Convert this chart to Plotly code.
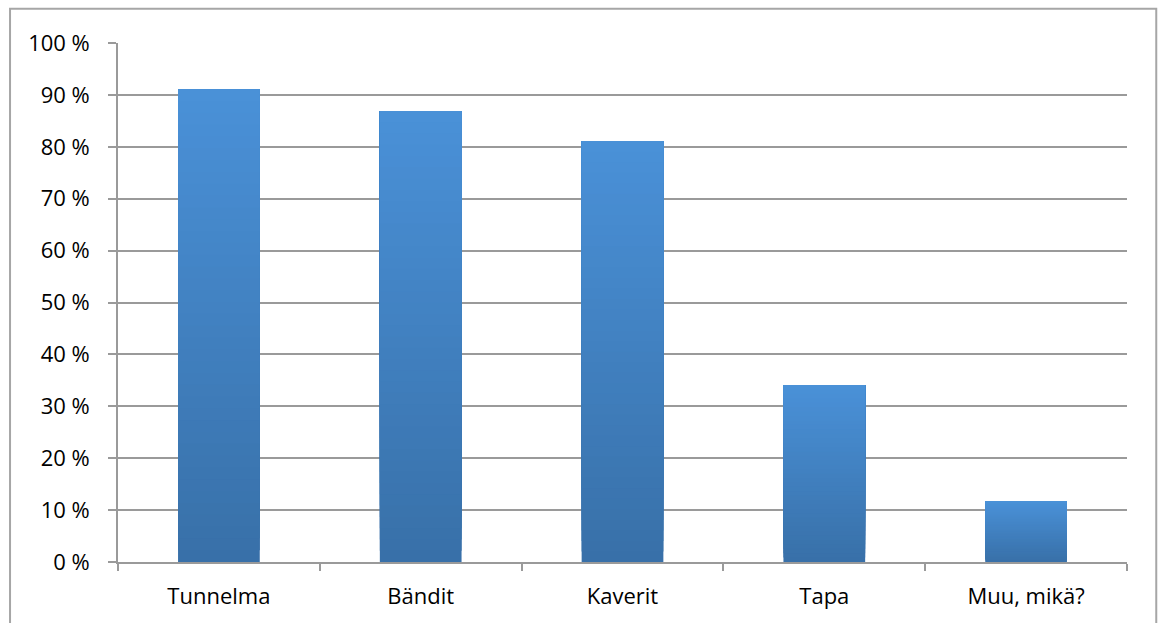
import plotly.graph_objects as go

categories = ["Tunnelma", "Bändit", "Kaverit", "Tapa", "Muu, mikä?"]
values = [91.1, 86.9, 81.1, 34.1, 11.7]
y_ticks = [0, 10, 20, 30, 40, 50, 60, 70, 80, 90, 100]

fig = go.Figure()

# vertical gradient: overlay bars starting ever higher, darker at bottom
N = 40
top = (74, 145, 216)
bot = (56, 112, 168)
for k in range(N):
    t = (k + 0.5) / N
    c = tuple(round(bot[i] + (top[i] - bot[i]) * t) for i in range(3))
    fig.add_trace(go.Bar(
        x=categories,
        y=[v - v * k / N for v in values],
        base=[v * k / N for v in values],
        marker=dict(color="rgb(%d,%d,%d)" % c, line=dict(width=0)),
        width=0.405,
        showlegend=False,
        hoverinfo="skip",
    ))

fig.update_layout(
    barmode="overlay",
    width=1163, height=623,
    margin=dict(l=118, r=36, t=43, b=61),
    paper_bgcolor="white", plot_bgcolor="white",
    font=dict(family="Open Sans, Liberation Sans, sans-serif", size=22, color="black"),
    showlegend=False,
)
fig.update_yaxes(
    range=[0, 100], tickvals=y_ticks, ticktext=["%d %%" % v for v in y_ticks],
    showgrid=True, gridcolor="#9a9a9a", gridwidth=1.6,
    showline=True, linecolor="#9a9a9a", linewidth=1.6,
    ticks="outside", ticklen=8, tickcolor="#9a9a9a", tickwidth=1.6,
    zeroline=False, ticklabelstandoff=14,
)
fig.update_xaxes(
    showgrid=False, showline=True, linecolor="#9a9a9a", linewidth=1.6,
    ticks="outside", tickson="boundaries", ticklen=7, tickcolor="#9a9a9a", tickwidth=1.6,
    ticklabelstandoff=14,
)
fig.add_shape(type="rect", xref="paper", yref="paper",
              x0=-0.107, x1=1.029, y0=-0.3, y1=1.066,
              line=dict(color="#a6a6a6", width=2), fillcolor="rgba(0,0,0,0)", layer="below")

fig.write_html("out.html")
